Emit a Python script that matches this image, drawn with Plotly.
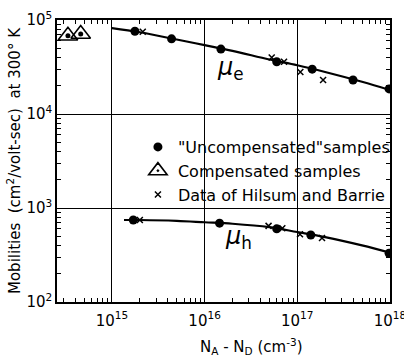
import plotly.graph_objects as go

# Electron mobility (mu_e) data
e_dot_x = [1.77e15, 4.4e15, 1.5e16, 6.0e16, 1.45e17, 4.0e17, 9.8e17]
e_dot_y = [7.6e4, 6.3e4, 4.9e4, 3.6e4, 3.0e4, 2.3e4, 1.85e4]
e_cross_x = [2.15e15, 5.3e16, 7.2e16, 1.08e17, 1.9e17]
e_cross_y = [7.5e4, 4.0e4, 3.6e4, 2.8e4, 2.3e4]
e_line_x = [1e15, 2e15, 5e15, 1e16, 2e16, 5e16, 1e17, 2e17, 5e17, 1e18]
e_line_y = [8.2e4, 7.4e4, 6.2e4, 5.4e4, 4.7e4, 3.8e4, 3.3e4, 2.8e4, 2.2e4, 1.8e4]

# Compensated samples
comp_x = [3.35e14, 4.6e14]
comp_y = [6.8e4, 7.1e4]

# Hole mobility (mu_h) data
h_dot_x = [1.7e15, 1.45e16, 6.0e16, 1.4e17, 9.8e17]
h_dot_y = [745, 690, 600, 516, 330]
h_cross_x = [2.0e15, 4.9e16, 6.9e16, 1.07e17, 1.85e17]
h_cross_y = [745, 645, 610, 525, 480]
h_line_x = [1.35e15, 2e15, 5e15, 1e16, 2e16, 5e16, 1e17, 2e17, 5e17, 1e18]
h_line_y = [745, 745, 730, 705, 680, 625, 555, 490, 400, 335]

x_major = [1e15, 1e16, 1e17, 1e18]
x_major_text = ["10<sup>15</sup>", "10<sup>16</sup>", "10<sup>17</sup>", "10<sup>18</sup>"]
y_major = [1e2, 1e3, 1e4, 1e5]
y_major_text = ["10<sup>2</sup>", "10<sup>3</sup>", "10<sup>4</sup>", "10<sup>5</sup>"]

FONT = "DejaVu Sans"
NB = "\u00a0"

x_minor = [m * 10 ** d for d in range(14, 18) for m in range(2, 10)]
y_minor = [m * 10 ** d for d in range(2, 5) for m in range(2, 10)]

fig = go.Figure()

fig.add_trace(go.Scatter(x=e_line_x, y=e_line_y, mode="lines", line=dict(color="black", width=2.2, shape="spline"), showlegend=False, hoverinfo="skip"))
fig.add_trace(go.Scatter(x=h_line_x, y=h_line_y, mode="lines", line=dict(color="black", width=2.2, shape="spline"), showlegend=False, hoverinfo="skip"))

fig.add_trace(go.Scatter(x=e_dot_x + h_dot_x, y=e_dot_y + h_dot_y, mode="markers",
                         marker=dict(symbol="circle", size=9, color="black"),
                         name="\"Uncompensated\"samples"))
fig.add_trace(go.Scatter(x=comp_x, y=comp_y, mode="markers",
                         marker=dict(symbol="triangle-up-open-dot", size=17, color="black", line=dict(width=1.6, color="black")),
                         name="Compensated samples"))
fig.add_trace(go.Scatter(x=comp_x, y=comp_y, mode="markers",
                         marker=dict(symbol="circle", size=5, color="black"),
                         showlegend=False))
fig.add_trace(go.Scatter(x=e_cross_x + h_cross_x, y=e_cross_y + h_cross_y, mode="markers",
                         marker=dict(symbol="x-thin-open", size=6, color="black", line=dict(width=1.5, color="black")),
                         name="Data of Hilsum and Barrie"))

# white area behind legend (masks gridlines)
fig.add_shape(type="rect", xref="paper", yref="paper", x0=0.18, x1=0.995, y0=0.355, y1=0.65,
              fillcolor="white", line=dict(width=0), layer="between")

fig.add_annotation(x=0.52, y=0.89, xref="paper", yref="paper", showarrow=False,
                   text="<i>μ</i><sub>e</sub>", font=dict(family=FONT, size=24, color="black"))
fig.add_annotation(x=0.545, y=0.165, xref="paper", yref="paper", showarrow=False,
                   text="<i>μ</i><sub>h</sub>", font=dict(family=FONT, size=24, color="black"))

# x-axis title as annotation (offset to the right as in reference)
fig.add_annotation(x=0.585, y=-0.115, xref="paper", yref="paper", showarrow=False, yanchor="top",
                   text="N<sub>A</sub> - N<sub>D</sub> (cm<sup>-3</sup>)", font=dict(family=FONT, size=15, color="black"))

axis_common = dict(type="log", showline=True, linecolor="black", linewidth=1.5, mirror="allticks",
                   ticks="", showgrid=True, gridcolor="black", gridwidth=1.2, zeroline=False, automargin=False,
                   ticklabeloverflow="allow", tickfont=dict(family=FONT, size=15, color="black"))

fig.update_xaxes(**axis_common, range=[14.407, 18.001], tickmode="array", tickvals=x_major, ticktext=x_major_text,
                 ticklabelstandoff=4,
                 minor=dict(tickmode="array", tickvals=x_minor, ticks="inside", ticklen=4, tickcolor="black", tickwidth=1, showgrid=False))
fig.update_yaxes(**axis_common, range=[2, 5], tickmode="array", tickvals=y_major, ticktext=y_major_text,
                 minor=dict(tickmode="array", tickvals=y_minor, ticks="inside", ticklen=4, tickcolor="black", tickwidth=1, showgrid=False),
                 title=dict(text="Mobilities" + NB * 2 + "(cm<sup>2</sup>/volt-sec)" + NB * 2 + "at 300° K",
                            font=dict(family=FONT, size=15, color="black"), standoff=2))

fig.update_layout(
    width=404, height=360,
    margin=dict(l=57, r=14, t=20, b=58, autoexpand=False),
    paper_bgcolor="white", plot_bgcolor="white",
    font=dict(family=FONT, color="black"),
    legend=dict(x=0.243, y=0.61, xanchor="left", yanchor="top", bgcolor="rgba(0,0,0,0)",
                font=dict(family=FONT, size=16, color="black"), itemwidth=30, tracegroupgap=0),
)

fig.write_html("out.html")
